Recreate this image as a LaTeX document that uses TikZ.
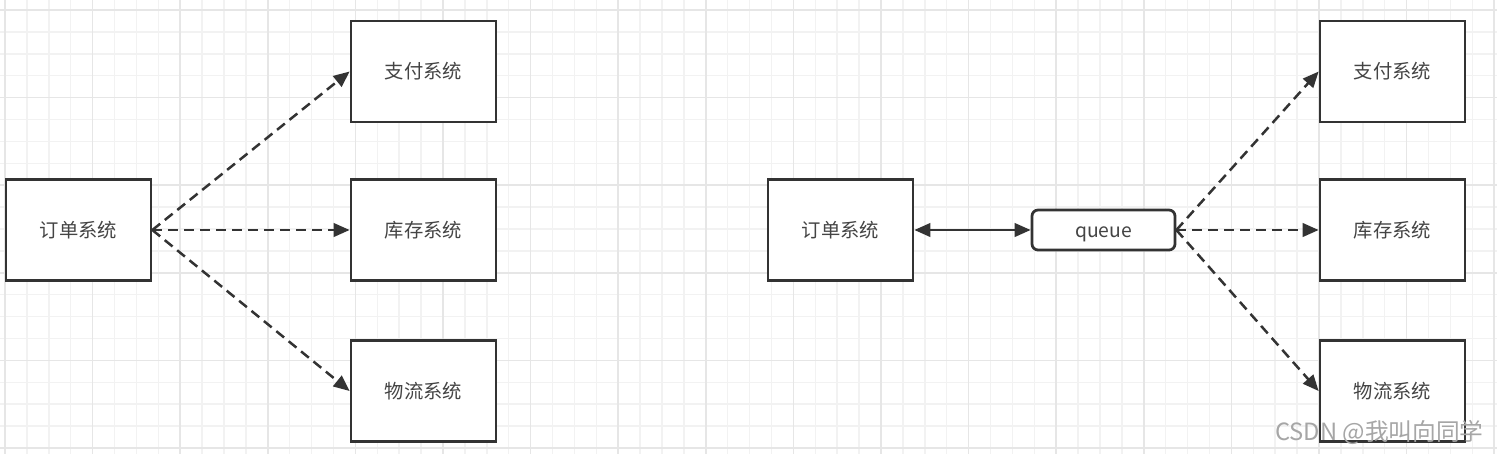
\documentclass[tikz,border=0pt]{standalone}
\usepackage{fontspec}
\usepackage{tikz}
\usetikzlibrary{arrows.meta}
\newfontfamily\cjk{Noto Sans CJK SC}
\definecolor{boxline}{HTML}{333333}
\definecolor{boxtext}{HTML}{444444}
\definecolor{minorgrid}{HTML}{F2F2F2}
\definecolor{majorgrid}{HTML}{E6E6E6}
\tikzset{
  sysbox/.style={draw=boxline,line width=0.055cm,fill=white,minimum width=2.9cm,minimum height=2.02cm,
    inner sep=0pt,text=boxtext,font=\cjk\fontsize{11}{13}\selectfont},
  queuebox/.style={sysbox,rounded corners=0.12cm,minimum width=2.86cm,minimum height=0.8cm,
    text height=1em,text depth=0.14em},
  dasharrow/.style={draw=boxline,line width=0.05cm,dash pattern=on 0.2cm off 0.12cm,
    -{Triangle[length=0.32cm,width=0.27cm]}},
  solidarrow/.style={draw=boxline,line width=0.05cm,
    {Triangle[length=0.32cm,width=0.27cm]}-{Triangle[length=0.32cm,width=0.27cm]}},
}
\begin{document}
\begin{tikzpicture}[x=0.02cm,y=-0.02cm]
	\useasboundingbox (0,0) rectangle (1497,454);
	\fill[white] (0,0) rectangle (1497,454);
	% grid
	\foreach \i in {0,...,68} \draw[minorgrid,line width=0.03cm] ({5+21.9*\i},0) -- ({5+21.9*\i},454);
	\foreach \j in {0,...,20} \draw[minorgrid,line width=0.03cm] (0,{10+21.9*\j}) -- (1497,{10+21.9*\j});
	\foreach \i in {0,...,17} \draw[majorgrid,line width=0.03cm] ({5+87.6*\i},0) -- ({5+87.6*\i},454);
	\foreach \j in {0,...,5} \draw[majorgrid,line width=0.03cm] (0,{10+87.6*\j}) -- (1497,{10+87.6*\j});

	% left: direct calls
	\node[sysbox] (orderL) at (78.5,230) {订单系统};
	\node[sysbox] (payL) at (423.5,71.5) {支付系统};
	\node[sysbox] (stockL) at (423.5,230) {库存系统};
	\node[sysbox] (shipL) at (423.5,391) {物流系统};
	\draw[dasharrow] (orderL.east) -- (payL.west);
	\draw[dasharrow] (orderL.east) -- (stockL.west);
	\draw[dasharrow] (orderL.east) -- (shipL.west);

	% right: through the queue
	\node[sysbox] (orderR) at (840.5,230) {订单系统};
	\node[queuebox] (queue) at (1103.5,230) {queue};
	\node[sysbox] (payR) at (1392.5,71.5) {支付系统};
	\node[sysbox] (stockR) at (1392.5,230) {库存系统};
	\node[sysbox] (shipR) at (1392.5,391) {物流系统};
	\draw[solidarrow] (orderR.east) -- (queue.west);
	\draw[dasharrow] (queue.east) -- (payR.west);
	\draw[dasharrow] (queue.east) -- (stockR.west);
	\draw[dasharrow] (queue.east) -- (shipR.west);

	\node[anchor=east,inner sep=0pt,text=gray!70,font=\cjk\fontsize{13.5}{15}\selectfont] (mark) at (1484,432) {CSDN @我叫向同学};
\end{tikzpicture}
\end{document}
